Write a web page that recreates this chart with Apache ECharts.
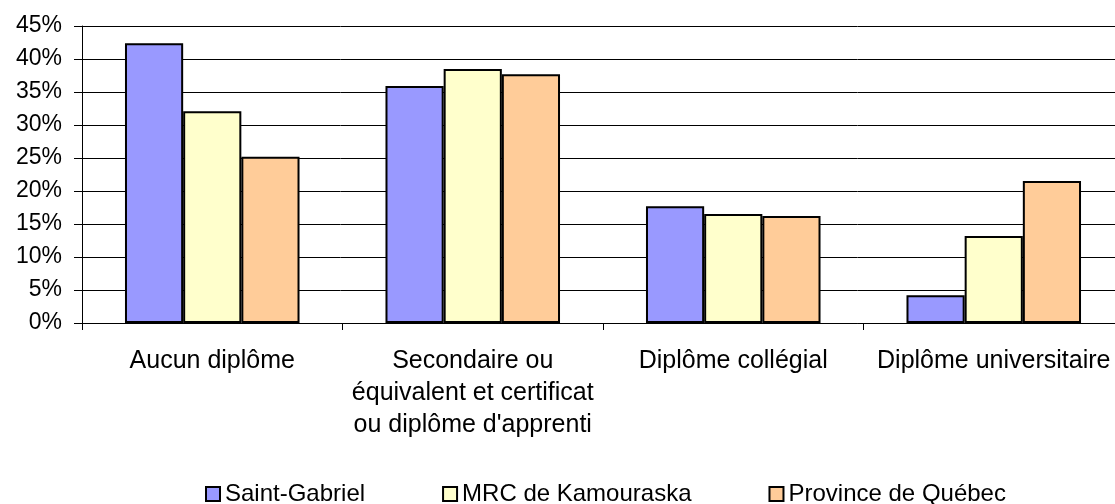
<!DOCTYPE html>
<html>
<head>
<meta charset="utf-8">
<script src="https://cdn.jsdelivr.net/npm/echarts@6/dist/echarts.min.js"></script>
<style>
  html, body { margin: 0; padding: 0; background: #fff; }
  #chart { width: 1115px; height: 504px; }
</style>
</head>
<body>
<div id="chart"></div>
<script>
// categories and values (%)
var categories = ['Aucun diplôme', 'Secondaire ou\néquivalent et certificat\nou diplôme d\'apprenti', 'Diplôme collégial', 'Diplôme universitaire'];
var saintGabriel = [42.4, 35.9, 17.7, 4.2];
var mrcKamouraska = [32.1, 38.5, 16.5, 13.2];
var provinceQuebec = [25.2, 37.7, 16.2, 21.5];
var seriesNames = ['Saint-Gabriel', 'MRC de Kamouraska', 'Province de Québec'];
var colorList = ['#9999ff', '#ffffcc', '#ffcc99'];

var chart = echarts.init(document.getElementById('chart'));

var font = 'Liberation Sans, Arial, sans-serif';

function barSeries(name, data, color) {
  return {
    name: name,
    type: 'bar',
    data: data,
    barGap: '0%',
    barCategoryGap: '33%',
    itemStyle: {
      color: color,
      borderColor: '#000',
      borderWidth: 2
    }
  };
}

var option = {
  animation: false,
  textStyle: { fontFamily: font },
  grid: {
    left: 82,
    top: 26,
    width: 1042,
    height: 297,
    outerBoundsMode: 'none',
    containLabel: false
  },
  legend: {
    top: 477,
    left: 200,
    itemGap: 77,
    itemWidth: 14,
    itemHeight: 14,
    icon: 'rect',
    textStyle: { fontSize: 24, color: '#000', fontFamily: font },
    itemStyle: { borderColor: '#000', borderWidth: 2 },
    data: seriesNames
  },
  xAxis: {
    type: 'category',
    data: categories,
    axisLine: { show: true, lineStyle: { color: '#000', width: 1 } },
    axisTick: { show: true, length: 7, lineStyle: { color: '#000' } },
    axisLabel: {
      interval: 0,
      margin: 22,
      fontSize: 25,
      lineHeight: 32,
      color: '#000',
      fontFamily: font
    }
  },
  yAxis: {
    type: 'value',
    min: 0,
    max: 45,
    interval: 5,
    axisLine: { show: true, lineStyle: { color: '#000', width: 1 } },
    axisTick: { show: true, length: 8, lineStyle: { color: '#000' } },
    splitLine: { show: true, lineStyle: { color: '#000', width: 1 } },
    axisLabel: {
      formatter: '{value}%',
      margin: 20,
      fontSize: 23,
      color: '#000',
      fontFamily: font
    }
  },
  series: [
    barSeries(seriesNames[0], saintGabriel, colorList[0]),
    barSeries(seriesNames[1], mrcKamouraska, colorList[1]),
    barSeries(seriesNames[2], provinceQuebec, colorList[2])
  ]
};

chart.setOption(option);
</script>
</body>
</html>
